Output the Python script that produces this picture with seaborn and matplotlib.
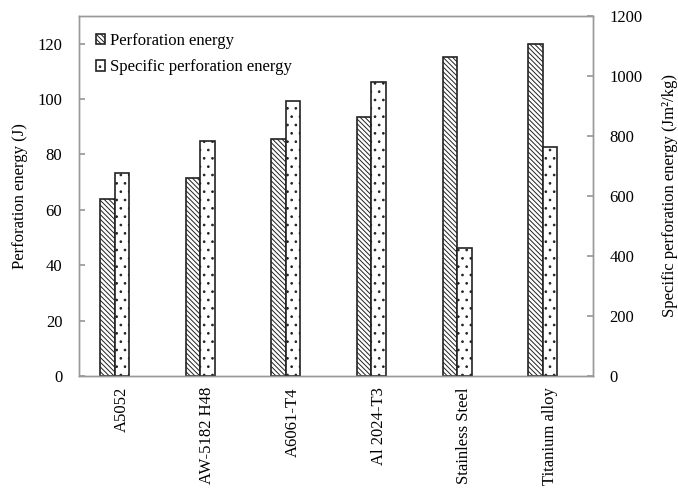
import pandas as pd
import matplotlib
matplotlib.use("Agg")
import matplotlib.pyplot as plt
import seaborn as sns

# values
materials = ["A5052", "AW-5182 H48", "A6061-T4", "Al 2024-T3", "Stainless Steel", "Titanium alloy"]
perforation_energy = [63.9, 71.4, 85.5, 93.6, 115.3, 119.7]          # J
specific_energy = [676, 784, 918, 980, 425, 762]                      # Jm2/kg
series = ["Perforation energy", "Specific perforation energy"]

sns.set_theme(style="white")
plt.rcParams["font.family"] = ["Liberation Serif", "DejaVu Serif"]
plt.rcParams["hatch.linewidth"] = 0.7
plt.rcParams["text.color"] = "black"
plt.rcParams["axes.labelcolor"] = "black"
plt.rcParams["xtick.labelcolor"] = "black"
plt.rcParams["ytick.labelcolor"] = "black"

df_pe = pd.DataFrame({"material": materials, "value": perforation_energy, "series": series[0]})
df_se = pd.DataFrame({"material": materials, "value": specific_energy, "series": series[1]})

fig = plt.figure(figsize=(6.78, 4.97), dpi=100)
ax = fig.add_axes([0.1165, 0.2435, 0.758, 0.7245])
ax2 = ax.twinx()

sns.barplot(data=df_pe, x="material", y="value", hue="series", hue_order=series,
            order=materials, width=0.34, dodge=True, ax=ax, palette=["white", "white"],
            edgecolor="#222222", linewidth=1.2, legend=False)
sns.barplot(data=df_se, x="material", y="value", hue="series", hue_order=series,
            order=materials, width=0.34, dodge=True, ax=ax2, palette=["white", "white"],
            edgecolor="#222222", linewidth=1.2, legend=False)

# the bar pairs sit a little left of the category label in the original
shift = -0.085
for p in ax.patches:
    p.set_hatch("\\\\\\\\\\\\\\")
    p.set_x(p.get_x() + shift)
for p in ax2.patches:
    p.set_hatch("..")
    p.set_x(p.get_x() + shift)

ax.set_ylim(0, 130)
ax2.set_ylim(0, 1200)
ax.set_yticks(range(0, 121, 20))
ax2.set_yticks(range(0, 1201, 200))
ax.set_xlim(-0.5, len(materials) - 0.5)

ax.set_xlabel("")
ax.set_ylabel("Perforation energy (J)", fontsize=12, labelpad=7)
ax2.set_ylabel("Specific perforation energy (Jm²/kg)", fontsize=12, labelpad=14)
ax.tick_params(axis="x", labelrotation=90, labelsize=12, length=0, pad=8)
ax.tick_params(axis="y", direction="in", length=4, color="#999999", labelsize=12, pad=12)
ax2.tick_params(axis="y", direction="in", length=4, color="#999999", labelsize=12, pad=12)

for a in (ax, ax2):
    for s in a.spines.values():
        s.set_color("#999999")
        s.set_linewidth(1.0)

# legend with both series
handles = [ax.patches[0], ax2.patches[0]]
leg = ax.legend(handles, series, loc="upper left", bbox_to_anchor=(0.0, 1.0),
                frameon=False, fontsize=12, handlelength=0.55, handleheight=0.55,
                handletextpad=0.3, labelspacing=0.65, borderaxespad=0.6)

fig.savefig("out.png", dpi=100)
